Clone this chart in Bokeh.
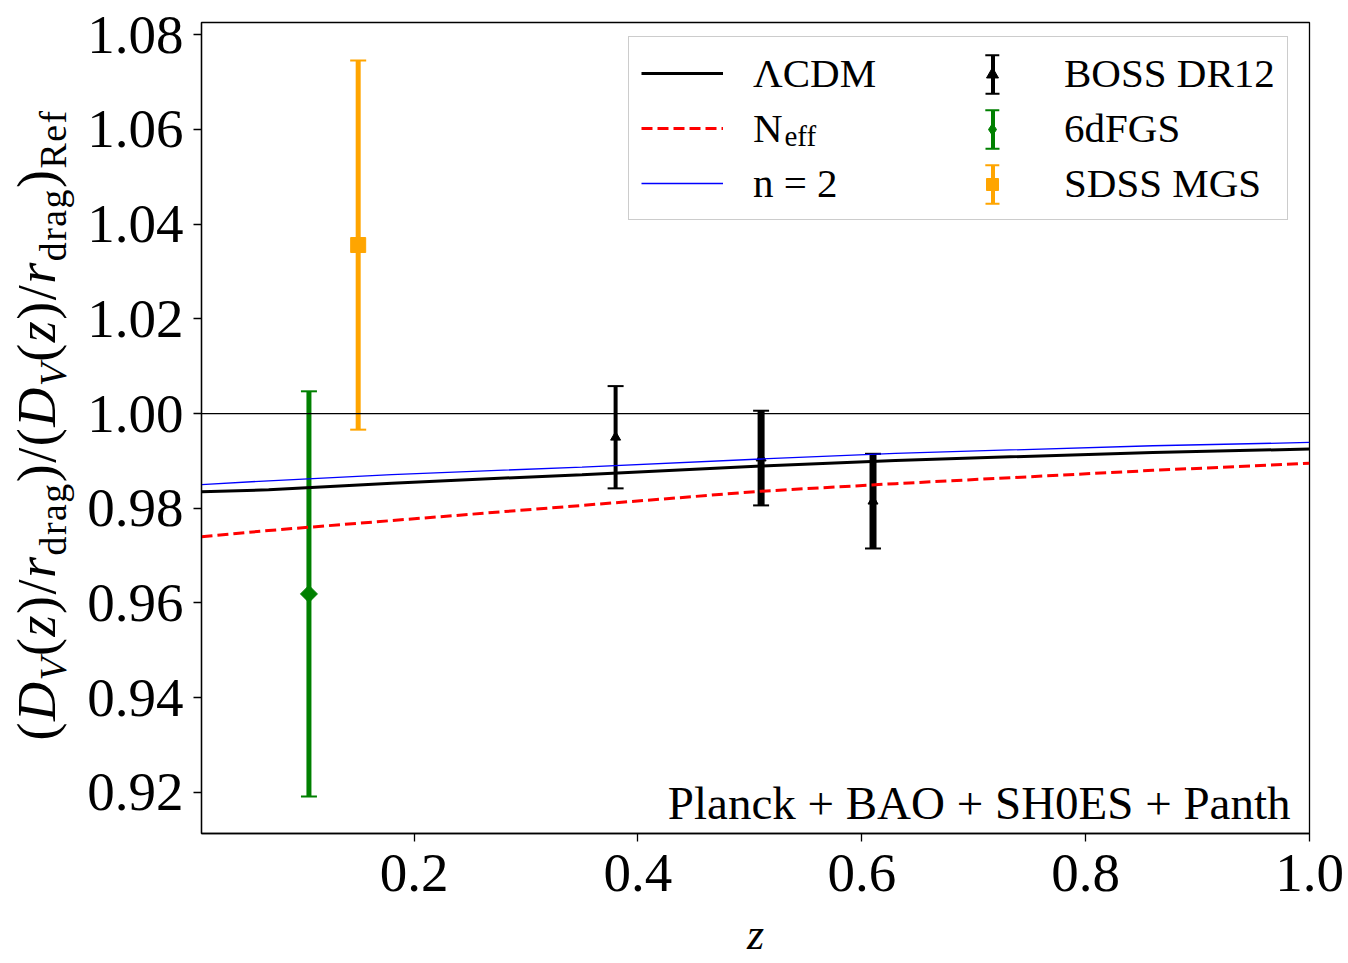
import math
from bokeh.plotting import figure
from bokeh.models import (ColumnDataSource, Range1d, FixedTicker, PrintfTickFormatter,
                          Span, Label, Legend, LegendItem, Div)
from bokeh.layouts import row
from bokeh.embed import file_html
from bokeh.resources import INLINE

# ---------------- data ----------------
z_model = [0.01, 0.07, 0.18, 0.35, 0.51, 0.63, 0.86, 1.0]
lcdm_ratio = [0.9835, 0.9839, 0.9853, 0.9871, 0.9889, 0.9901, 0.9918, 0.9925]
neff_ratio = [0.9740, 0.9753, 0.9774, 0.9806, 0.9836, 0.9852, 0.9880, 0.9895]
n2_ratio = [0.9850, 0.9858, 0.9871, 0.9887, 0.9904, 0.9916, 0.9932, 0.9939]

boss_z = [0.38, 0.51, 0.61]
boss_val = [0.9950, 0.9906, 0.9815]
boss_err = [0.0108, 0.0100, 0.0100]

sixdf_z = [0.106]
sixdf_val = [0.9619]
sixdf_err = [0.0428]

mgs_z = [0.15]
mgs_val = [1.0356]
mgs_err = [0.0390]

reference_level = 1.0

x_ticks = [0.2, 0.4, 0.6, 0.8, 1.0]
x_tick_labels = ["0.2", "0.4", "0.6", "0.8", "1.0"]
y_ticks = [0.92, 0.94, 0.96, 0.98, 1.00, 1.02, 1.04, 1.06, 1.08]
y_tick_labels = ["0.92", "0.94", "0.96", "0.98", "1.00", "1.02", "1.04", "1.06", "1.08"]

series_names = ["\u039bCDM", "N", "n = 2", "BOSS DR12", "6dFGS", "SDSS MGS"]
annotation_text = "Planck + BAO + SH0ES + Panth"
x_label = "z"

# ---------------- layout constants ----------------
FONT = "Liberation Serif"
X0, X1 = 0.01, 1.0
Y0, Y1 = 0.9113, 1.0826
DIV_W = 82
FIG_W, FIG_H = 1348 - DIV_W, 963
FL, FT, FW, FH = 201 - DIV_W, 22, 1108, 811
FB = FT + FH


def dx(page_x):
    return X0 + (page_x - DIV_W - FL) / FW * (X1 - X0)


def dy(page_y):
    return Y1 - (page_y - FT) / FH * (Y1 - Y0)


p = figure(width=FIG_W, height=FIG_H, x_range=Range1d(X0, X1), y_range=Range1d(Y0, Y1),
           output_backend="svg", toolbar_location=None,
           min_border_left=FL, min_border_top=FT,
           min_border_right=FIG_W - FL - FW, min_border_bottom=FIG_H - FB)
p.xgrid.visible = False
p.ygrid.visible = False
p.background_fill_color = "white"
p.border_fill_color = "white"
p.outline_line_color = "black"
p.outline_line_width = 1.3
p.outline_line_alpha = 1.0

# ---------------- error bars ----------------
def errorbars(zs, vals, errs, color, marker, msize, bar_widths, angle=0.0):
    src = ColumnDataSource(dict(z=zs, v=vals,
                                lo=[v - e for v, e in zip(vals, errs)],
                                hi=[v + e for v, e in zip(vals, errs)],
                                w=bar_widths))
    p.segment(x0="z", y0="lo", x1="z", y1="hi", line_width="w", line_color=color, source=src)
    p.scatter(x="z", y="hi", marker="dash", size=16, line_width=2, line_color=color, source=src)
    p.scatter(x="z", y="lo", marker="dash", size=16, line_width=2, line_color=color, source=src)
    return p.scatter(x="z", y="v", marker=marker, size=msize, angle=angle, fill_color=color,
                     line_color=color, source=src)


r_boss = errorbars(boss_z, boss_val, boss_err, "black", "triangle", 10, [4, 7, 7])
r_6df = errorbars(sixdf_z, sixdf_val, sixdf_err, "#008000", "square", 12, [5],
                  angle=math.pi / 4)
r_mgs = errorbars(mgs_z, mgs_val, mgs_err, "#FFA500", "square", 15, [5])

# ---------------- model curves ----------------
r_lcdm = p.line(z_model, lcdm_ratio, line_color="black", line_width=3)
r_neff = p.line(z_model, neff_ratio, line_color="red", line_width=3, line_dash="11 5")
r_n2 = p.line(z_model, n2_ratio, line_color="blue", line_width=1.3)

p.add_layout(Span(location=reference_level, dimension="width", line_color="black",
                  line_width=1.3))

# ---------------- axes ----------------
p.xaxis.ticker = FixedTicker(ticks=x_ticks)
p.yaxis.ticker = FixedTicker(ticks=y_ticks)
p.xaxis.formatter = PrintfTickFormatter(format="%.1f")
p.yaxis.formatter = PrintfTickFormatter(format="%.2f")
p.xaxis.major_label_overrides = dict(zip(x_ticks, x_tick_labels))
p.yaxis.major_label_overrides = dict(zip(y_ticks, y_tick_labels))
for ax in (p.xaxis[0], p.yaxis[0]):
    ax.major_label_text_font = FONT
    ax.major_label_text_font_size = "55px"
    ax.major_label_text_color = "black"
    ax.axis_line_color = "black"
    ax.axis_line_width = 1.3
    ax.major_tick_line_color = "black"
    ax.major_tick_line_width = 1.3
    ax.major_tick_out = 8
    ax.major_tick_in = 0
    ax.minor_tick_line_color = None
p.xaxis.major_label_standoff = 13
p.yaxis.major_label_standoff = 10
p.xaxis.axis_label = x_label
p.xaxis.axis_label_text_font = FONT
p.xaxis.axis_label_text_font_style = "italic"
p.xaxis.axis_label_text_font_size = "44px"
p.xaxis.axis_label_text_color = "black"
p.xaxis.axis_label_standoff = 16

# ---------------- legend ----------------
GH, SP, PAD = 48, 7, 12
LEG_LEFT, LEG_BOTTOM = 628 - DIV_W, 220      # canvas px
LBL_W = 199 - SP
nan = float("nan")
main_items = [
    LegendItem(label=series_names[0], renderers=[r_lcdm]),
    LegendItem(label=series_names[1], renderers=[r_neff]),
    LegendItem(label=series_names[2], renderers=[r_n2]),
    LegendItem(label=series_names[3], renderers=[]),
    LegendItem(label=series_names[4], renderers=[]),
    LegendItem(label=series_names[5], renderers=[]),
]
leg = Legend(items=main_items, ncols=2, location=(LEG_LEFT - FL, FB - LEG_BOTTOM),
             glyph_width=82, glyph_height=GH, spacing=SP, padding=PAD, margin=0,
             label_standoff=30, label_width=LBL_W, label_text_font=FONT,
             label_text_font_size="41px", label_text_color="black",
             border_line_color="#cccccc", border_line_width=1.5, border_line_alpha=1.0,
             background_fill_color="white", background_fill_alpha=0.0)
p.add_layout(leg)

col2_center = LEG_LEFT + PAD + 82 + 30 + LBL_W + SP + 41
ov_bottom = LEG_BOTTOM - PAD
colors = ["black", "#008000", "#FFA500"]
cap_r = [p.vbar(x=[nan], top=[nan], bottom=[nan], width=0.01, fill_alpha=0,
                line_color=c, line_width=2, line_dash="14 39") for c in colors]
bar_r = [p.vbar(x=[nan], top=[nan], bottom=[nan], width=0.01, fill_color=c,
                line_alpha=0) for c in colors]
diamond_key = p.scatter(x=[nan], y=[nan], marker="diamond", fill_color="#008000",
                        line_color="#008000")


def overlay(gw, renderers):
    items = [LegendItem(label=" ", renderers=[r]) for r in renderers]
    return Legend(items=items, location=(col2_center - gw / 2 - FL, FB - ov_bottom),
                  glyph_width=gw, glyph_height=GH, spacing=SP, padding=0, margin=0,
                  label_standoff=0, label_text_font=FONT, label_text_font_size="41px",
                  background_fill_alpha=0, border_line_alpha=0)


p.add_layout(overlay(18, cap_r))
p.add_layout(overlay(5, bar_r))
p.add_layout(overlay(30, [r_boss, diamond_key, r_mgs]))

p.add_layout(Label(x=dx(784), y=dy(151), text="eff", text_font=FONT,
                   text_font_size="29px", text_color="black", level="overlay"))

p.add_layout(Label(x=dx(1290), y=dy(802), text=annotation_text, text_font=FONT,
                   text_font_size="47px", text_color="black", text_align="right",
                   text_baseline="alphabetic"))

# ---------------- y-axis label (HTML, rotated) ----------------
SUB = '<sub style="font-size:70%;vertical-align:-0.3em;line-height:0">'
grp = '(<i>D</i>' + SUB + '<i>V</i></sub>(<i>z</i>)/<i>r</i>' + SUB + 'drag</sub>)'
ylabel_html = (
    '<div style="width:74px;height:850px;display:flex;align-items:center;'
    'justify-content:center;">'
    '<div style="transform:rotate(-90deg);white-space:nowrap;font-family:\'%s\';'
    'font-size:54px;line-height:1;letter-spacing:1.5px;color:#000;">'
    '%s/%s%sRef</sub></div></div>' % (FONT, grp, grp, SUB)
)
div = Div(text=ylabel_html, width=DIV_W, height=850, margin=0)

layout = row(div, p, spacing=0)
open("out.html", "w").write(file_html(layout, INLINE))
